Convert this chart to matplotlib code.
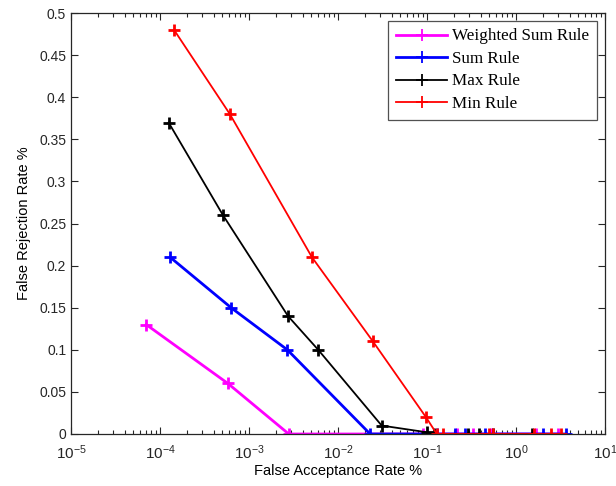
import math
import matplotlib
matplotlib.use("Agg")
import matplotlib.pyplot as plt
from matplotlib.ticker import LogLocator, FixedLocator, FuncFormatter

plt.rcParams["mathtext.fontset"] = "custom"
plt.rcParams["mathtext.rm"] = "Liberation Sans"
plt.rcParams["mathtext.it"] = "Liberation Sans"
plt.rcParams["mathtext.default"] = "regular"

# False acceptance / false rejection rates (%) for each fusion rule
far_weighted = [7.0e-5, 5.8e-4, 2.8e-3, 0.09, 0.22, 0.33, 0.52, 1.7, 3.0]
frr_weighted = [0.13, 0.06, 0.0, 0.0, 0.0, 0.0, 0.0, 0.0, 0.0]

far_sum = [1.3e-4, 6.3e-4, 2.7e-3, 0.023, 0.13, 0.205, 0.27, 0.45, 2.0, 3.7]
frr_sum = [0.21, 0.15, 0.10, 0.0, 0.0, 0.0, 0.0, 0.0, 0.0, 0.0]

far_max = [1.25e-4, 5.1e-4, 2.75e-3, 6.0e-3, 0.031, 0.1, 0.12, 0.29, 0.38, 0.55, 1.5]
frr_max = [0.37, 0.26, 0.14, 0.10, 0.01, 0.002, 0.0, 0.0, 0.0, 0.0, 0.0]

far_min = [1.44e-4, 6.1e-4, 5.1e-3, 0.0247, 0.0975, 0.129, 0.15, 0.5, 0.55, 1.6, 2.5, 3.2]
frr_min = [0.48, 0.38, 0.21, 0.11, 0.02, 0.0, 0.0, 0.0, 0.0, 0.0, 0.0, 0.0]

labels = ["Weighted Sum Rule", "Sum Rule", "Max Rule", "Min Rule"]
colors = ["#ff00ff", "#0000ff", "#000000", "#ff0000"]
widths = [2.0, 2.0, 1.3, 1.3]

y_ticks = [0, 0.05, 0.1, 0.15, 0.2, 0.25, 0.3, 0.35, 0.4, 0.45, 0.5]

fig = plt.figure(figsize=(6.16, 4.86), dpi=100)
ax = fig.add_axes([0.1153, 0.107, 0.8667, 0.866])

series = [(far_weighted, frr_weighted), (far_sum, frr_sum),
          (far_max, frr_max), (far_min, frr_min)]
for (x, y), lab, c, lw in zip(series, labels, colors, widths):
    ax.plot(x, y, color=c, lw=lw, marker="+", markersize=9,
            markeredgewidth=2.0, label=lab)

ax.set_xscale("log")
ax.set_xlim(1e-5, 10)
ax.set_ylim(0, 0.5)
ax.xaxis.set_major_locator(LogLocator(base=10, numticks=10))
ax.xaxis.set_minor_locator(LogLocator(base=10, subs=range(2, 10), numticks=20))
ax.yaxis.set_major_locator(FixedLocator(y_ticks))
ax.yaxis.set_major_formatter(FuncFormatter(lambda v, p: f"{v:g}"))
ax.xaxis.set_major_formatter(FuncFormatter(
    lambda v, p: r"$10^{%d}$" % round(math.log10(v))))

ax.tick_params(which="both", direction="in", top=True, right=True,
               labelsize=10, colors="#262626")
ax.tick_params(which="major", length=5, width=0.8)
ax.tick_params(which="minor", length=3, width=0.8)
ax.tick_params(axis="x", which="major", labelsize=11, pad=7)
for lab in ax.get_xticklabels() + ax.get_yticklabels():
    lab.set_fontfamily("Liberation Sans")
for s in ax.spines.values():
    s.set_color("#262626")
    s.set_linewidth(0.9)

ax.set_xlabel("False Acceptance Rate %", fontsize=10.5,
              fontfamily="Liberation Sans", labelpad=1)
ax.set_ylabel("False Rejection Rate %", fontsize=10.5,
              fontfamily="Liberation Sans", labelpad=6)

leg = ax.legend(loc="upper right", prop={"family": "Liberation Serif", "size": 12.3},
                frameon=True, fancybox=False, edgecolor="#262626",
                handlelength=3.0, borderpad=0.45, labelspacing=0.38,
                handletextpad=0.3, borderaxespad=0.45)
leg.get_frame().set_linewidth(0.9)
for h in leg.legend_handles:
    h.set_markersize(8)
    h.set_markeredgewidth(1.3)

fig.savefig("out.png", dpi=100, facecolor="white")
